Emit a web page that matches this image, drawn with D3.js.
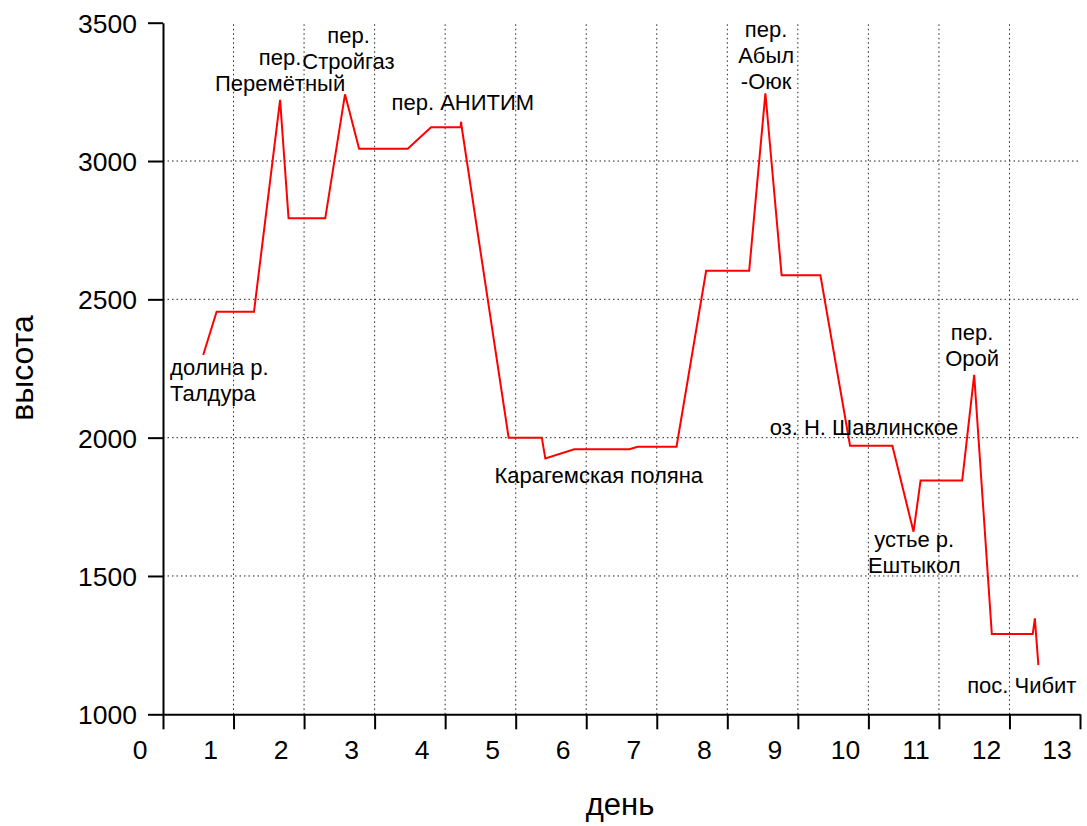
<!DOCTYPE html>
<html>
<head>
<meta charset="utf-8">
<script src="https://cdn.jsdelivr.net/npm/d3@7"></script>
<style>
  body { margin: 0; background: #fff; }
  svg { display: block; font-family: "Liberation Sans", Arial, sans-serif; }
</style>
</head>
<body>
<svg id="chart" width="1087" height="826"></svg>
<script>
// ── data: day of route vs altitude (m) ──
const days = [0.57, 0.76, 1.29, 1.66, 1.78, 2.30, 2.58, 2.78, 3.47, 3.80, 4.22, 4.225, 4.235, 4.90,
              5.37, 5.42, 5.83, 6.61, 6.73, 7.28, 7.70, 8.31, 8.54, 8.77, 9.32, 9.74, 10.34,
              10.64, 10.74, 11.33, 11.50, 11.75, 12.33, 12.36, 12.41];
const alts = [2299, 2455, 2455, 3221, 2793, 2793, 3241, 3044, 3044, 3122, 3122, 3142, 3122, 2000,
              2000, 1925, 1958, 1958, 1967, 1967, 2603, 2603, 3245, 2587, 2587, 1971, 1971,
              1660, 1845, 1845, 2227, 1290, 1290, 1347, 1178];

const xTicks = d3.range(0, 14);
const yTicks = [1000, 1500, 2000, 2500, 3000, 3500];

// place names, anchored in data units (day, altitude of first baseline)
const labels = [
    { lines: ["долина р.", "Талдура"], day: 0.10, alt: 2227, anchor: "start" },
    { lines: ["пер.", "Перемётный"], day: 1.66, alt: 3347, anchor: "middle" },
    { lines: ["пер.", "Стройгаз"], day: 2.63, alt: 3427, anchor: "middle" },
    { lines: ["пер. АНИТИМ"], day: 3.24, alt: 3185, anchor: "start" },
    { lines: ["Карагемская поляна"], day: 4.70, alt: 1836, anchor: "start" },
    { lines: ["пер.", "Абыл", "-Оюк"], day: 8.55, alt: 3449, anchor: "middle" },
    { lines: ["оз. Н. Шавлинское"], day: 8.60, alt: 2010, anchor: "start" },
    { lines: ["пер.", "Орой"], day: 11.47, alt: 2353, anchor: "middle" },
    { lines: ["устье р.", "Ештыкол"], day: 10.65, alt: 1605, anchor: "middle" },
    { lines: ["пос. Чибит"], day: 11.40, alt: 1078, anchor: "start" }
];

const svg = d3.select("#chart");

const x = d3.scaleLinear().domain([0, 13]).range([163, 1080]);
const y = d3.scaleLinear().domain([1000, 3500]).range([714.3, 22.7]);

// grid
const grid = svg.append("g").attr("stroke", "#222").attr("stroke-width", 1)
    .attr("stroke-dasharray", "1.5,3");
grid.selectAll(".gv").data(xTicks.filter(d => d > 0 && d < 13)).join("line")
    .attr("x1", d => x(d)).attr("x2", d => x(d))
    .attr("y1", y(1000)).attr("y2", y(3500));
grid.selectAll(".gh").data(yTicks.filter(d => d > 1000 && d < 3500)).join("line")
    .attr("x1", x(0)).attr("x2", x(13))
    .attr("y1", d => y(d)).attr("y2", d => y(d));

// axes
const xAx = svg.append("g").attr("transform", `translate(0,${y(1000)})`)
    .call(d3.axisBottom(x).tickValues(xTicks).tickSize(15).tickSizeOuter(0).tickFormat(d3.format("d")));
const yAx = svg.append("g").attr("transform", `translate(${x(0)},0)`)
    .call(d3.axisLeft(y).tickValues(yTicks).tickSize(15).tickSizeOuter(0).tickFormat(d3.format("d")));

[xAx, yAx].forEach(a => {
    a.selectAll(".domain, line").attr("stroke", "#000").attr("stroke-width", 2);
    a.selectAll("text").attr("fill", "#000").attr("font-size", "26.5px")
        .attr("font-family", "'Liberation Sans', Arial, sans-serif");
});
// day numbers sit a little left of their ticks, as in the original
xAx.selectAll("text").attr("x", -23.5).attr("y", 26).attr("dy", "0.71em");
yAx.selectAll("text").attr("x", -26).attr("dy", "0.36em");

// profile line
svg.append("path")
    .datum(days.map((d, i) => [d, alts[i]]))
    .attr("fill", "none").attr("stroke", "#ff0000").attr("stroke-width", 2)
    .attr("stroke-linejoin", "miter")
    .attr("d", d3.line().x(d => x(d[0])).y(d => y(d[1])));

// place labels
labels.forEach(l => {
    const t = svg.append("text")
        .attr("text-anchor", l.anchor).attr("font-size", "22px").attr("fill", "#000");
    l.lines.forEach((s, i) => {
        t.append("tspan").attr("x", x(l.day)).attr("y", y(l.alt) + i * 26).text(s);
    });
});

// axis titles
svg.append("text").attr("x", 620).attr("y", 815)
    .attr("text-anchor", "middle").attr("font-size", "31px").text("день");
svg.append("text").attr("transform", "translate(33,368) rotate(-90)")
    .attr("text-anchor", "middle").attr("font-size", "32px").text("высота");
</script>
</body>
</html>
